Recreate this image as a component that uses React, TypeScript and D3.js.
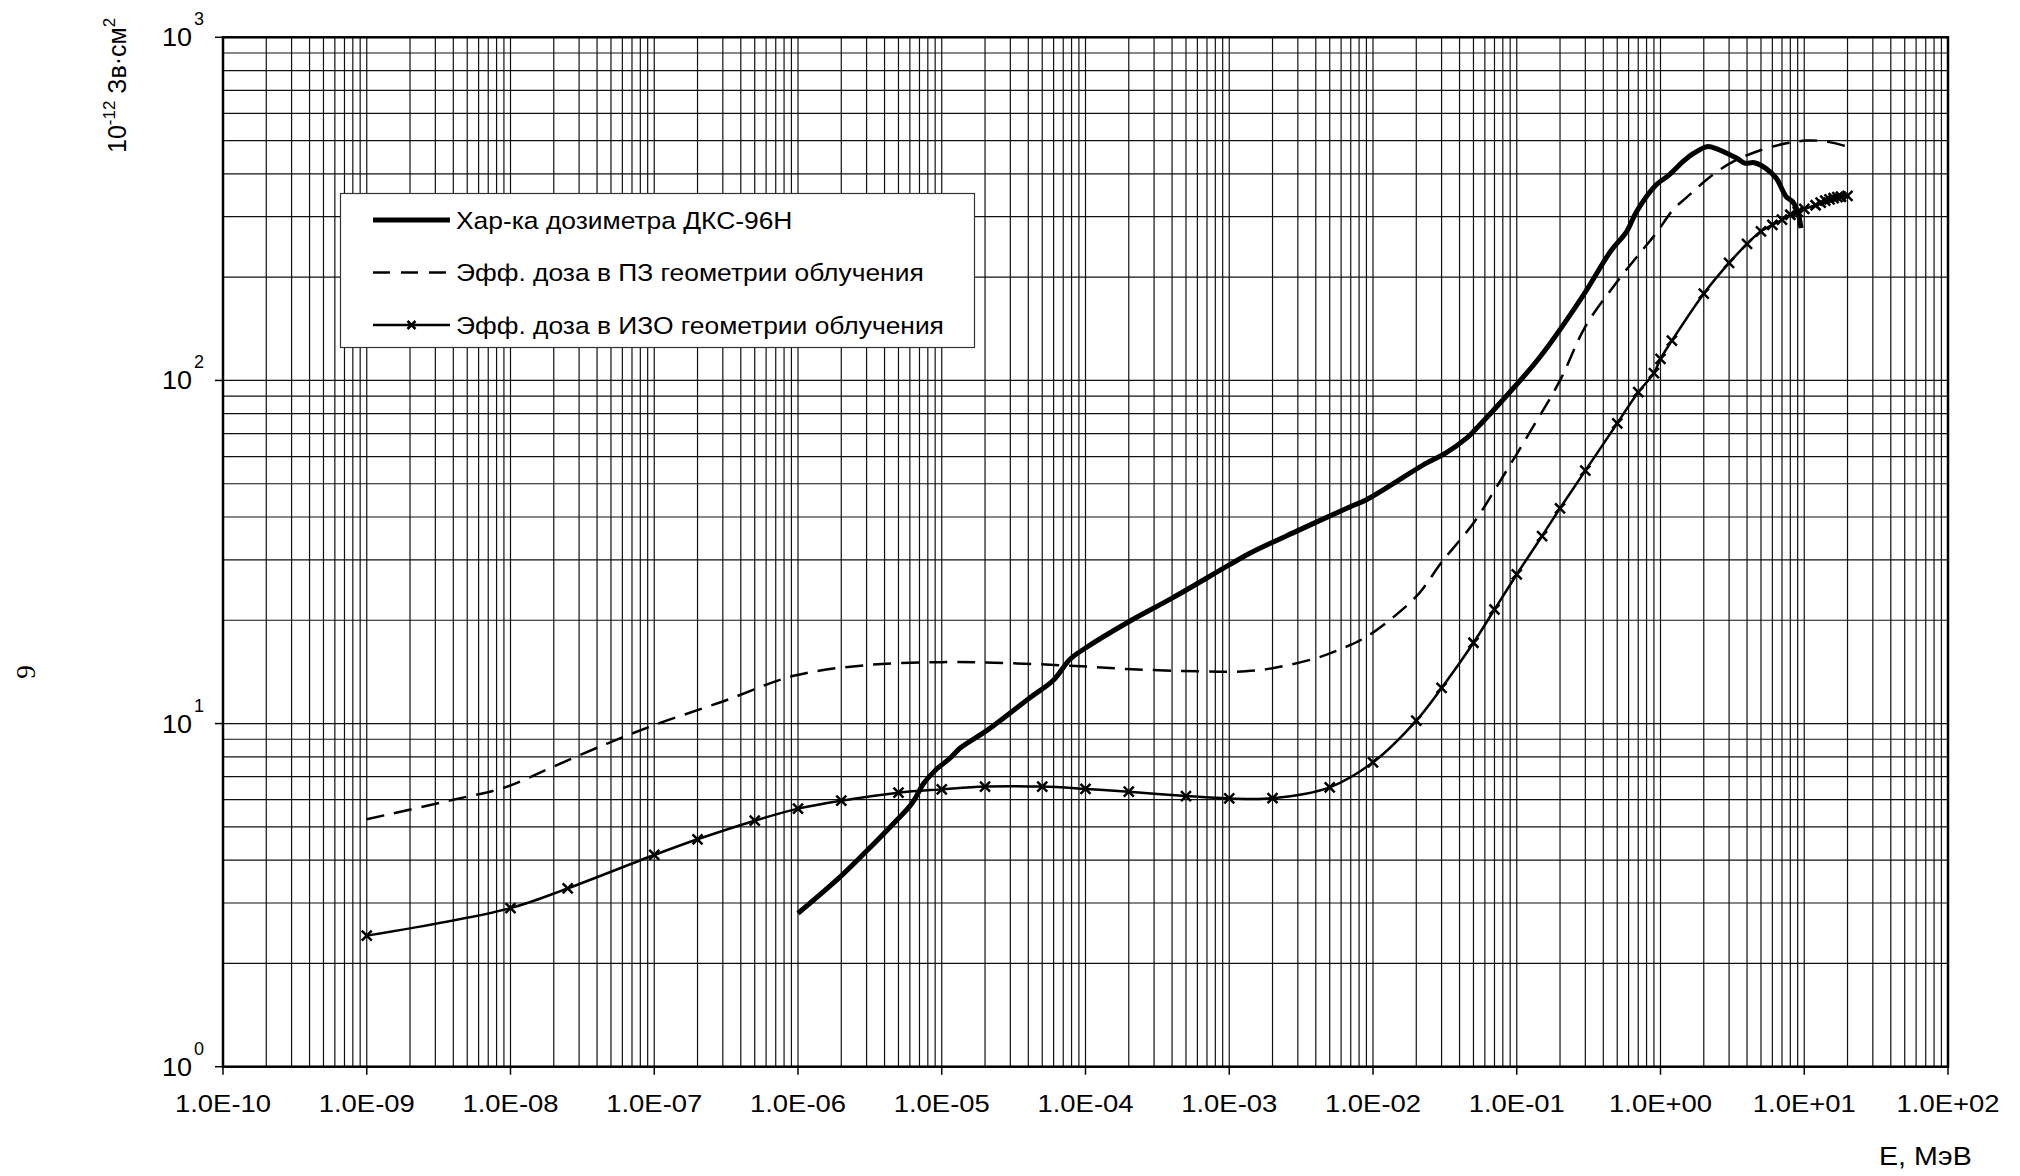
import React from 'react';
import * as d3 from 'd3';

const W = 2020;
const H = 1176;
const M = { left: 223, right: 1948, top: 37.3, bottom: 1066.7 };

// decade exponents and their tick labels
const xExps = [-10, -9, -8, -7, -6, -5, -4, -3, -2, -1, 0, 1, 2];
const xTickLabels = ['1.0E-10', '1.0E-09', '1.0E-08', '1.0E-07', '1.0E-06', '1.0E-05', '1.0E-04',
  '1.0E-03', '1.0E-02', '1.0E-01', '1.0E+00', '1.0E+01', '1.0E+02'];
const yExps = [0, 1, 2, 3];
const yTickLabels = ['0', '1', '2', '3'];

const legendLabels = [
  'Хар-ка дозиметра ДКС-96Н',
  'Эфф. доза в ПЗ геометрии облучения',
  'Эфф. доза в ИЗО геометрии облучения',
];

// [E, MeV ; dose, 1e-12 Sv*cm2]
const dksCurve: [number, number][] = [
  [1e-6, 2.8], [2e-6, 3.6], [3e-6, 4.25], [4.8e-6, 5.2], [6.2e-6, 5.85], [7.5e-6, 6.7],
  [9e-6, 7.3], [1.15e-5, 7.95], [1.35e-5, 8.5], [2.1e-5, 9.6], [4e-5, 11.8], [6e-5, 13.4],
  [7.8e-5, 15.4], [1e-4, 16.6], [2e-4, 19.8], [4e-4, 23.2], [1e-3, 29], [1.4e-3, 31.4],
  [3e-3, 36.5], [7e-3, 42.9], [9e-3, 44.9], [2.35e-2, 57.4], [3.2e-2, 61.4], [4.5e-2, 68],
  [5e-2, 71], [9e-2, 92.7], [1.45e-1, 117], [2.9e-1, 177], [4.5e-1, 238], [5.8e-1, 271],
  [6.8e-1, 310], [9.3e-1, 371], [1.15, 397], [1.43, 434], [1.7, 459], [2.1, 480], [2.3, 478],
  [3.4, 444], [3.85, 430], [4.5, 431], [5.4, 415], [6.4, 388], [7.5, 343], [8.3, 332],
  [9.0, 310], [9.5, 278],
];

const apCurve: [number, number][] = [
  [1e-9, 5.26], [4e-9, 6.0], [9e-9, 6.5], [2e-8, 7.5], [4.75e-8, 8.76], [1e-7, 9.9],
  [3e-7, 11.6], [9.5e-7, 13.8], [3e-6, 14.8], [1e-5, 15.1], [2.8e-5, 15.0], [7.8e-5, 14.75],
  [2.1e-4, 14.4], [6.2e-4, 14.2], [1.3e-3, 14.2], [2e-3, 14.5], [4e-3, 15.5], [6.2e-3, 16.6],
  [9e-3, 17.9], [1.4e-2, 20.5], [2.1e-2, 24], [3e-2, 29.5], [5e-2, 38.4], [8e-2, 52.4],
  [1.3e-1, 73.3], [2e-1, 100], [3e-1, 143.5], [4.9e-1, 192], [7.3e-1, 237], [9.3e-1, 268],
  [1.22, 314], [1.5, 340], [2.3, 397], [3.2, 434], [4.9, 468], [7.5, 491], [10.3, 500],
  [14.2, 497], [20, 480],
];

const isoPoints: [number, number][] = [
  [1e-9, 2.41], [1e-8, 2.9], [2.5e-8, 3.31], [1e-7, 4.14], [2e-7, 4.6], [5e-7, 5.21],
  [1e-6, 5.65], [2e-6, 5.96], [5e-6, 6.29], [1e-5, 6.43], [2e-5, 6.55], [5e-5, 6.55],
  [1e-4, 6.45], [2e-4, 6.33], [5e-4, 6.15], [1e-3, 6.05], [2e-3, 6.06], [5e-3, 6.52],
  [1e-2, 7.71], [2e-2, 10.2], [3e-2, 12.7], [5e-2, 17.2], [7e-2, 21.5], [1e-1, 27.2],
  [1.5e-1, 35.2], [2e-1, 42.4], [3e-1, 54.6], [5e-1, 75], [7e-1, 92.4], [9e-1, 105],
  [1, 115.5], [1.2, 130.6], [2, 179], [3, 220], [4, 250], [5, 272], [6, 284], [7, 294],
  [8, 304], [9, 310], [10, 316], [12, 324], [13, 330], [14, 334], [15, 337], [16, 340],
  [17, 342], [18, 343], [20, 345],
];

const FONT = '"Liberation Sans", Arial, sans-serif';

const Cross = ({ cx, cy, s = 5 }: { cx: number; cy: number; s?: number }) => (
  <path d={`M${cx - s},${cy - s}L${cx + s},${cy + s}M${cx - s},${cy + s}L${cx + s},${cy - s}`}
    stroke="#000" strokeWidth={2.5} fill="none" />
);

export default function App() {
  const x = d3.scaleLog().domain([1e-10, 1e2]).range([M.left, M.right]);
  const y = d3.scaleLog().domain([1, 1000]).range([M.bottom, M.top]);

  const line = d3.line<[number, number]>()
    .x(d => x(d[0]))
    .y(d => y(d[1]))
    .curve(d3.curveCatmullRom.alpha(0.5));

  // minor + major grid values
  const xGrid: number[] = [];
  xExps.slice(0, -1).forEach(e => d3.range(1, 10).forEach(m => xGrid.push(m * Math.pow(10, e))));
  const yGrid: number[] = [];
  yExps.slice(0, -1).forEach(e => d3.range(1, 10).forEach(m => yGrid.push(m * Math.pow(10, e))));

  const legY = [220, 272.5, 325];

  return (
    <svg width={W} height={H} style={{ position: 'absolute', left: 0, top: 0, background: '#fff' }}
      fontFamily={FONT}>
      <rect width={W} height={H} fill="#fff" />

      {/* grid */}
      <g stroke="#111" strokeWidth={1.2}>
        {xGrid.map((v, i) => (
          <line key={'gx' + i} x1={x(v)} x2={x(v)} y1={M.top} y2={M.bottom} />
        ))}
        {yGrid.map((v, i) => (
          <line key={'gy' + i} x1={M.left} x2={M.right} y1={y(v)} y2={y(v)} />
        ))}
      </g>

      {/* frame and ticks */}
      <rect x={M.left} y={M.top} width={M.right - M.left} height={M.bottom - M.top}
        fill="none" stroke="#000" strokeWidth={2.5} />
      <g stroke="#000" strokeWidth={1.5}>
        {xExps.map(e => (
          <line key={'tx' + e} x1={x(Math.pow(10, e))} x2={x(Math.pow(10, e))} y1={M.bottom} y2={M.bottom + 8} />
        ))}
        {yExps.map(e => (
          <line key={'ty' + e} x1={M.left - 8} x2={M.left} y1={y(Math.pow(10, e))} y2={y(Math.pow(10, e))} />
        ))}
      </g>

      {/* x tick labels */}
      {xExps.map((e, i) => (
        <text key={'lx' + e} transform={`translate(${x(Math.pow(10, e))},1112) scale(1.12,1)`}
          textAnchor="middle" fontSize={24.5}>
          {xTickLabels[i]}
        </text>
      ))}

      {/* y tick labels */}
      {yExps.map((e, i) => (
        <g key={'ly' + e}>
          <text transform={`translate(192,${y(Math.pow(10, e)) + 9}) scale(1.08,1)`} textAnchor="end"
            fontSize={25}>10</text>
          <text x={194} y={y(Math.pow(10, e)) - 12} fontSize={18}>{yTickLabels[i]}</text>
        </g>
      ))}

      {/* axis titles */}
      <text transform="translate(126,153) rotate(-90)" fontSize={25}>
        <tspan>10</tspan>
        <tspan fontSize={17} dy={-11}>-12</tspan>
        <tspan dy={11}> Зв·см</tspan>
        <tspan fontSize={17} dy={-11}>2</tspan>
      </text>
      <text transform="translate(1879,1165) scale(1.1,1)" fontSize={26}>E, МэВ</text>
      <text transform="translate(35,672) rotate(-90)" fontSize={27} textAnchor="middle"
        fontFamily='"Liberation Serif", "Times New Roman", serif'>9</text>

      {/* curves */}
      <path d={line(apCurve) || ''} fill="none" stroke="#000" strokeWidth={2.5} strokeDasharray="18,10" />
      <path d={line(isoPoints) || ''} fill="none" stroke="#000" strokeWidth={2.5} />
      {isoPoints.map((d, i) => <Cross key={'m' + i} cx={x(d[0])} cy={y(d[1])} />)}
      <path d={line(dksCurve) || ''} fill="none" stroke="#000" strokeWidth={5} />

      {/* legend */}
      <rect x={340.5} y={193.5} width={634} height={154} fill="#fff" stroke="#333" strokeWidth={1.2} />
      <line x1={373} x2={450} y1={legY[0]} y2={legY[0]} stroke="#000" strokeWidth={5} />
      <line x1={373} x2={450} y1={legY[1]} y2={legY[1]} stroke="#000" strokeWidth={2.5} strokeDasharray="17,11" />
      <line x1={373} x2={450} y1={legY[2]} y2={legY[2]} stroke="#000" strokeWidth={2.5} />
      <Cross cx={411.5} cy={legY[2]} s={4} />
      {legendLabels.map((t, i) => (
        <text key={'lg' + i} transform={`translate(456,${legY[i] + 8.5}) scale(1.1,1)`} fontSize={24}>{t}</text>
      ))}
    </svg>
  );
}
